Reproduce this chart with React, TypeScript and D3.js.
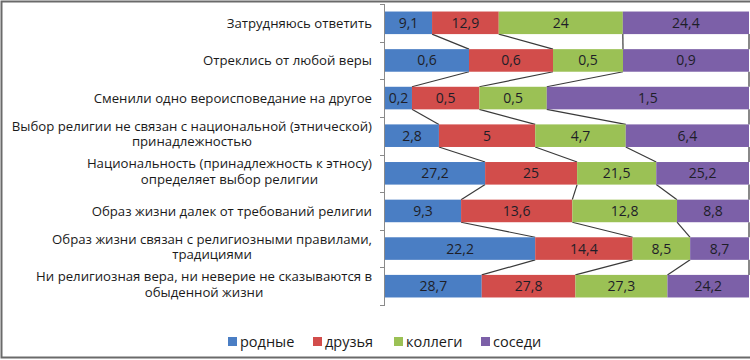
import * as React from "react";
import * as d3 from "d3";

const categories = [
  ["Затрудняюсь ответить"],
  ["Отреклись от любой веры"],
  ["Сменили одно вероисповедание на другое"],
  ["Выбор религии не связан с национальной (этнической)", "принадлежностью"],
  ["Национальность (принадлежность к этносу)", "определяет выбор религии"],
  ["Образ жизни далек от требований религии"],
  ["Образ жизни связан с религиозными правилами,", "традициями"],
  ["Ни религиозная вера, ни неверие не сказываются в", "обыденной жизни"]
];

const seriesNames = ["родные", "друзья", "коллеги", "соседи"];
const rodnye = [9.1, 0.6, 0.2, 2.8, 27.2, 9.3, 22.2, 28.7];
const druzya = [12.9, 0.6, 0.5, 5, 25, 13.6, 14.4, 27.8];
const kollegi = [24, 0.5, 0.5, 4.7, 21.5, 12.8, 8.5, 27.3];
const sosedi = [24.4, 0.9, 1.5, 6.4, 25.2, 8.8, 8.7, 24.2];
const colors = ["#4a7ec4", "#d24d4b", "#9bc155", "#7c60a8"];

const fmt = (v: number) => String(v).replace(".", ",");

export default function App() {
  const ref = React.useRef<SVGSVGElement | null>(null);

  React.useEffect(() => {
    document.body.style.margin = "0";
    const svg = d3.select(ref.current);
    svg.selectAll("*").remove();

    const font = "'Open Sans', sans-serif";
    const left = 385, right = 749, top = 4, bottom = 305;
    const series = [rodnye, druzya, kollegi, sosedi];

    const rows = categories.map((c, i) => {
      const vals = series.map(s => s[i]);
      const total = d3.sum(vals);
      let acc = 0;
      const segs = vals.map((v, k) => {
        const s = { k, v, x0: acc / total, x1: (acc + v) / total };
        acc += v;
        return s;
      });
      return { i, segs };
    });

    const x = d3.scaleLinear().domain([0, 1]).range([left, right]);
    const y = d3.scaleBand<number>().domain(d3.range(categories.length))
      .range([top, bottom]).paddingInner(0.4).paddingOuter(0.2);

    // frame
    svg.append("rect").attr("x", 1.5).attr("y", 1.5).attr("width", 752).attr("height", 356)
      .attr("fill", "white").attr("stroke", "#6a6a6a").attr("stroke-width", 2);

    // connector lines between segment ends
    const g = svg.append("g");
    for (let i = 0; i < rows.length - 1; i++) {
      for (let k = 0; k < 4; k++) {
        g.append("line")
          .attr("x1", x(rows[i].segs[k].x1)).attr("y1", y(i)! + y.bandwidth())
          .attr("x2", x(rows[i + 1].segs[k].x1)).attr("y2", y(i + 1)!)
          .attr("stroke", "#3a3a3a").attr("stroke-width", 1.2);
      }
    }

    // bars
    rows.forEach(r => {
      const rg = svg.append("g");
      rg.selectAll("rect").data(r.segs).enter().append("rect")
        .attr("x", d => x(d.x0)).attr("y", y(r.i)!)
        .attr("width", d => x(d.x1) - x(d.x0)).attr("height", y.bandwidth())
        .attr("fill", d => colors[d.k]);
      rg.selectAll("text").data(r.segs).enter().append("text")
        .attr("x", d => (x(d.x0) + x(d.x1)) / 2).attr("y", y(r.i)! + y.bandwidth() / 2)
        .attr("dy", "0.36em").attr("text-anchor", "middle")
        .style("font-family", font).style("font-size", "14px").attr("fill", "#1e1e28")
        .text(d => fmt(d.v));
    });

    // axis
    const axis = svg.append("g").attr("stroke", "#8a8a8a");
    axis.append("line").attr("x1", left - 0.5).attr("x2", left - 0.5).attr("y1", top).attr("y2", bottom);
    const step = y.step();
    d3.range(categories.length + 1).forEach(j => {
      const ty = Math.round(top + j * step) + 0.5;
      axis.append("line").attr("x1", left - 5).attr("x2", left).attr("y1", ty).attr("y2", ty);
    });

    // category labels
    categories.forEach((lines, i) => {
      const cy = y(i)! + y.bandwidth() / 2 - (lines.length > 1 ? 2 : 0);
      const tg = svg.append("g");
      const texts = lines.map((l, j) =>
        tg.append("text")
          .attr("y", cy + (j - (lines.length - 1) / 2) * 15.5)
          .attr("dy", "0.36em").attr("text-anchor", "middle")
          .style("font-family", font).style("font-size", "13.2px").attr("fill", "#1a1a1a")
          .text(l));
      const widths = texts.map(t => (t.node() as SVGTextElement).getComputedTextLength());
      const cx = 372 - d3.max(widths)! / 2;
      texts.forEach(t => t.attr("x", cx));
    });

    // legend
    const lg = svg.append("g");
    const legendX = [228, 313, 394, 481];
    seriesNames.forEach((n, k) => {
      lg.append("rect").attr("x", legendX[k]).attr("y", 337).attr("width", 9).attr("height", 9)
        .attr("fill", colors[k]);
      lg.append("text").attr("x", legendX[k] + 12).attr("y", 341.5).attr("dy", "0.36em")
        .style("font-family", font).style("font-size", "14.5px").attr("fill", "#1a1a1a")
        .text(n);
    });
  }, []);

  return <svg ref={ref} width={750} height={360} style={{ display: "block" }} />;
}
